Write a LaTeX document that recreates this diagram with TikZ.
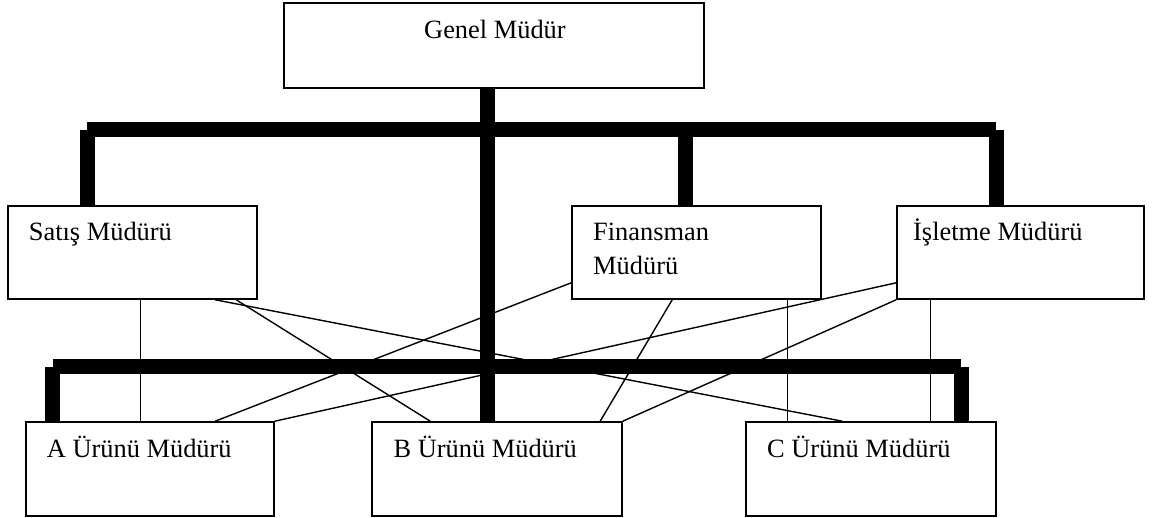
\documentclass[tikz,border=0pt]{standalone}
\usepackage{fontspec}
\setmainfont{Liberation Serif}
\begin{document}
\begin{tikzpicture}[x=1pt,y=-1pt,
  unit/.style={draw=black,line width=1.6pt,rectangle,inner sep=0pt,fill=white},
  caption/.style={anchor=base west,inner sep=0pt,font=\fontsize{26.4}{33}\selectfont},
  bus/.style={line width=15pt,line cap=butt},
  link/.style={line width=1.4pt}]
\useasboundingbox (0,0) rectangle (1152,518);

% bus lines (drawn first so the boxes sit on top)
\coordinate (tl) at (87,129.5);
\coordinate (tr) at (996,129.5);
\coordinate (fd) at (685,129.5);
\coordinate (bl) at (52.5,366.5);
\coordinate (br) at (961,366.5);
\coordinate (trunk) at (487,0);

% boxes
\node[unit,minimum width=420pt,minimum height=85pt] (gm) at (494,45.5) {};
\node[unit,minimum width=249pt,minimum height=93pt] (sat) at (132.5,252.5) {};
\node[unit,minimum width=249pt,minimum height=93pt] (fin) at (696.5,252.5) {};
\node[unit,minimum width=247pt,minimum height=93pt] (isl) at (1020.5,252.5) {};
\node[unit,minimum width=248pt,minimum height=94pt] (pa) at (150,469) {};
\node[unit,minimum width=250pt,minimum height=94pt] (pb) at (497,469) {};
\node[unit,minimum width=250pt,minimum height=94pt] (pc) at (871,469) {};

% top distribution bus
\draw[bus] (tl) -- (tr);
\draw[bus] ([yshift=-0.5pt]tl) -- (tl |- sat.north);
\draw[bus] (fd) -- (fd |- fin.north);
\draw[bus] ([yshift=-0.5pt]tr) -- (tr |- isl.north);
% trunk from the general manager to the product level
\draw[bus] (gm.south -| trunk) -- (pb.north -| trunk);
% bottom distribution bus
\draw[bus] (bl) -- (br);
\draw[bus] ([yshift=-0.5pt]bl) -- (bl |- pa.north);
\draw[bus] ([yshift=-0.5pt]br) -- (br |- pc.north);

% functional links
\draw[link] ([xshift=133pt]sat.south west) -- ([xshift=115pt]pa.north west);
\draw[link] ([xshift=229pt]sat.south west) -- ([xshift=59pt]pb.north west);
\draw[link] ([xshift=208pt]sat.south west) -- ([xshift=97pt]pc.north west);
\draw[link] ([yshift=17pt]fin.south west) -- ([xshift=190pt]pa.north west);
\draw[link] ([xshift=101pt]fin.south west) -- ([xshift=229pt]pb.north west);
\draw[link] ([xshift=216pt]fin.south west) -- ([xshift=42pt]pc.north west);
\draw[link] ([yshift=17pt]isl.south west) -- (pa.north east);
\draw[link] (isl.south west) -- (pb.north east);
\draw[link] ([xshift=34pt]isl.south west) -- ([xshift=185pt]pc.north west);

% captions
\node[caption] (tgm) at (424,39) {Genel Müdür};
\node[caption] (tsat) at (28.7,241) {Satış Müdürü};
\node[caption] (tfin1) at (593,241) {Finansman};
\node[caption] (tfin2) at (593,275) {Müdürü};
\node[caption] (tisl) at (913,241) {İşletme Müdürü};
\node[caption] (tpa) at (46.7,458) {A Ürünü Müdürü};
\node[caption] (tpb) at (393.4,458) {B Ürünü Müdürü};
\node[caption] (tpc) at (767,458) {C Ürünü Müdürü};
\end{tikzpicture}
\end{document}
